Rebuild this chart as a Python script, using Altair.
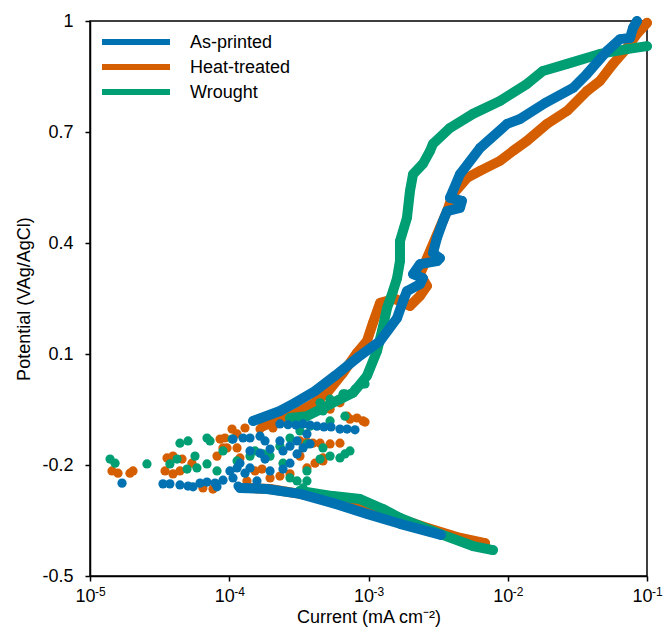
import altair as alt
import pandas as pd

SERIES = ["As-printed", "Heat-treated", "Wrought"]
COLORS = ["#0072B2", "#D55E00", "#009E73"]

# ---- As-printed (log10 current in mA cm^-2, potential in V vs Ag/AgCl)
ap_anodic_logi = [-3.829, -3.636, -3.528, -3.384, -3.241, -3.083, -2.917, -2.795, -2.752, -2.724,
                  -2.630, -2.609, -2.680, -2.630, -2.508, -2.487, -2.537, -2.508, -2.465, -2.436,
                  -2.343, -2.329, -2.415, -2.393, -2.343, -2.199, -2.005, -1.912, -1.733, -1.531,
                  -1.431, -1.287, -1.194, -1.122, -1.101, -1.072]
ap_anodic_e = [-0.081, -0.054, -0.032, 0.000, 0.041, 0.089, 0.135, 0.197, 0.243, 0.270,
               0.289, 0.305, 0.316, 0.343, 0.351, 0.359, 0.373, 0.414, 0.459, 0.486,
               0.495, 0.514, 0.522, 0.541, 0.586, 0.657, 0.722, 0.735, 0.778, 0.819,
               0.857, 0.919, 0.951, 0.954, 0.981, 1.000]
ap_cathodic_logi = [-2.480, -2.774, -3.011, -3.255, -3.492, -3.729, -3.923]
ap_cathodic_e = [-0.389, -0.359, -0.332, -0.303, -0.278, -0.265, -0.262]
ap_scatter_logi = [-4.770, -4.476, -4.426, -4.354, -4.296, -4.260, -4.210, -4.160, -4.088, -4.045,
                   -3.973, -3.944, -3.923, -3.973, -3.901, -3.873, -3.937, -3.851, -3.779, -3.636,
                   -3.513, -3.442, -3.851, -3.779, -3.707, -3.614, -3.513, -3.851, -3.707, -3.614,
                   -3.801, -3.636, -3.470, -3.370, -3.205, -3.097, -3.420,
                   -3.578, -3.521, -3.420, -3.320, -3.269, -3.154, -3.743, -3.564, -3.470, -3.743,
                   -3.564, -3.995, -4.102, -3.887]
ap_scatter_e = [-0.249, -0.251, -0.251, -0.254, -0.257, -0.259, -0.249, -0.246, -0.259, -0.241,
                -0.235, -0.208, -0.195, -0.130, -0.127, -0.262, -0.257, -0.127, -0.122, -0.135,
                -0.135, -0.116, -0.162, -0.168, -0.157, -0.162, -0.170, -0.208, -0.216, -0.211,
                -0.243, -0.089, -0.089, -0.095, -0.103, -0.105, -0.143,
                -0.091, -0.092, -0.092, -0.097, -0.097, -0.103, -0.135, -0.149, -0.154, -0.184,
                -0.195, -0.216, -0.249, -0.222]

# ---- Heat-treated
ht_anodic_logi = [-3.758, -3.636, -3.513, -3.399, -3.298, -3.183, -3.083, -3.011, -2.968, -2.917,
                  -2.810, -2.702, -2.630, -2.580, -2.630, -2.580, -2.487, -2.436, -2.393, -2.293,
                  -2.199, -2.056, -1.962, -1.862, -1.718, -1.574, -1.431, -1.338, -1.244, -1.144,
                  -1.072, -1.000]
ht_anodic_e = [-0.095, -0.076, -0.059, -0.035, -0.005, 0.049, 0.103, 0.135, 0.184, 0.238,
               0.249, 0.230, 0.257, 0.284, 0.316, 0.359, 0.441, 0.486, 0.532, 0.576,
               0.595, 0.622, 0.649, 0.676, 0.722, 0.757, 0.811, 0.838, 0.884, 0.927,
               0.965, 0.995]
ht_cathodic_logi = [-2.163, -2.364, -2.580, -2.774, -3.011, -3.255, -3.492, -3.707, -3.851]
ht_cathodic_e = [-0.411, -0.395, -0.370, -0.346, -0.319, -0.297, -0.278, -0.265, -0.262]
ht_scatter_logi = [-4.842, -4.799, -4.713, -4.691, -4.461, -4.404, -4.447, -4.404, -4.339, -4.268,
                   -4.088, -4.031, -3.980, -3.887, -3.944, -4.016, -4.066, -4.045, -3.923, -3.873,
                   -3.707, -3.564, -3.442, -3.327, -3.276, -3.083, -3.348, -3.779, -3.686, -3.399,
                   -3.039, -3.133, -3.327, -4.189, -4.117, -3.205, -3.492,
                   -3.492, -3.442, -3.348, -3.154, -3.025, -3.815, -3.765, -3.636, -3.384, -3.944,
                   -4.354, -3.205, -3.276]
ht_scatter_e = [-0.216, -0.222, -0.222, -0.216, -0.216, -0.224, -0.181, -0.176, -0.184, -0.195,
                -0.176, -0.127, -0.103, -0.100, -0.116, -0.154, -0.130, -0.154, -0.181, -0.243,
                -0.235, -0.224, -0.208, -0.189, -0.143, -0.073, -0.027, -0.103, -0.100, -0.141,
                -0.081, -0.076, -0.181, -0.262, -0.265, -0.141, -0.176,
                -0.135, -0.138, -0.141, -0.068, -0.084, -0.216, -0.211, -0.230, -0.195, -0.154,
                -0.216, -0.032, -0.049]

# ---- Wrought
wr_anodic_logi = [-3.564, -3.442, -3.327, -3.205, -3.111, -3.011, -2.939, -2.903, -2.867, -2.824,
                  -2.795, -2.774, -2.774, -2.724, -2.702, -2.680, -2.609, -2.558, -2.537, -2.415,
                  -2.250, -2.056, -1.862, -1.747, -1.574, -1.338, -1.144, -1.000]
wr_anodic_e = [-0.073, -0.068, -0.046, -0.022, -0.005, 0.041, 0.108, 0.162, 0.224, 0.270,
               0.305, 0.351, 0.405, 0.468, 0.541, 0.586, 0.614, 0.649, 0.668, 0.711,
               0.749, 0.784, 0.830, 0.865, 0.884, 0.911, 0.924, 0.932]
wr_cathodic_logi = [-2.106, -2.250, -2.487, -2.774, -2.896, -3.061, -3.255, -3.492]
wr_cathodic_e = [-0.430, -0.419, -0.386, -0.343, -0.319, -0.292, -0.284, -0.270]
wr_scatter_logi = [-4.856, -4.820, -4.591, -4.354, -4.296, -4.160, -4.138, -4.375, -4.426, -4.303,
                   -4.232, -4.160, -4.088, -4.045, -3.980, -3.944, -3.758, -3.564, -3.513, -3.470,
                   -3.442, -3.327, -3.183, -3.039, -3.442, -3.327, -3.348, -3.205, -3.133, -3.492,
                   -3.420, -3.276, -3.169, -3.614, -3.707, -3.851,
                   -3.348, -3.276, -3.169, -3.097, -3.025, -3.276, -3.169, -3.564, -3.442, -3.636,
                   -3.815, -4.246]
wr_scatter_e = [-0.184, -0.195, -0.197, -0.141, -0.135, -0.127, -0.135, -0.184, -0.197, -0.211,
                -0.208, -0.197, -0.216, -0.162, -0.130, -0.189, -0.170, -0.127, -0.243, -0.262,
                -0.216, -0.054, -0.008, 0.019, -0.143, -0.154, -0.184, -0.181, -0.162, -0.108,
                -0.095, -0.081, -0.068, -0.195, -0.176, -0.176,
                -0.032, -0.022, -0.008, 0.005, 0.019, -0.176, -0.170, -0.235, -0.243, -0.149,
                -0.162, -0.176]

# ---- axes
x_tick_values = [1e-5, 1e-4, 1e-3, 1e-2, 1e-1]
x_tick_exponents = ["-5", "-4", "-3", "-2", "-1"]
y_tick_values = [-0.5, -0.2, 0.1, 0.4, 0.7, 1.0]
y_tick_labels = ["-0.5", "-0.2", "0.1", "0.4", "0.7", "1"]

FONT = "Liberation Sans"
FS = 18

raw = {
    "As-printed": [("anodic", ap_anodic_logi, ap_anodic_e), ("cathodic", ap_cathodic_logi, ap_cathodic_e),
                   ("scatter", ap_scatter_logi, ap_scatter_e)],
    "Heat-treated": [("anodic", ht_anodic_logi, ht_anodic_e), ("cathodic", ht_cathodic_logi, ht_cathodic_e),
                     ("scatter", ht_scatter_logi, ht_scatter_e)],
    "Wrought": [("anodic", wr_anodic_logi, wr_anodic_e), ("cathodic", wr_cathodic_logi, wr_cathodic_e),
                ("scatter", wr_scatter_logi, wr_scatter_e)],
}

x_scale = alt.Scale(type="log", domain=[1e-5, 1e-1], nice=False)
y_scale = alt.Scale(domain=[-0.5, 1.0], nice=False, zero=False)

x_axis = alt.Axis(values=x_tick_values, labelExpr="'10'", labelOffset=-5, labelBaseline="alphabetic",
                  labelPadding=20, labelFontSize=FS, labelFont=FONT, labelColor="black",
                  labelFlush=False, labelOverlap=False, labelBound=False,
                  title="Current (mA cm\u207b\u00b2)", titleFont=FONT, titleFontSize=FS,
                  titleFontWeight="normal", titleColor="black", titleX=278.5, titleY=46,
                  titleBaseline="alphabetic", titleAlign="center")
ylab_expr = "[" + ",".join("'%s'" % s for s in y_tick_labels) + "][round((datum.value + 0.5) / 0.3)]"
y_axis = alt.Axis(values=y_tick_values, labelExpr=ylab_expr, labelPadding=12, labelFontSize=FS,
                  labelFont=FONT, labelColor="black", labelBaseline="middle",
                  labelFlush=False, labelOverlap=False,
                  title="Potential (VAg/AgCl)", titleFont=FONT, titleFontSize=FS,
                  titleFontWeight="normal", titleColor="black", titleX=-66, titleY=277.5,
                  titleAngle=270, titleAlign="center", titleBaseline="middle")

X = alt.X("current:Q", scale=x_scale, axis=x_axis)
Y = alt.Y("potential:Q", scale=y_scale, axis=y_axis)

layers = []
for name in ["Heat-treated", "Wrought", "As-printed"]:
    color = COLORS[SERIES.index(name)]
    line_rows, pt_rows = [], []
    for kind, li, ev in raw[name]:
        for k, (a, b) in enumerate(zip(li, ev)):
            row = {"current": 10 ** a, "potential": b, "kind": kind, "idx": k}
            (pt_rows if kind == "scatter" else line_rows).append(row)
    ldf = pd.DataFrame(line_rows)
    pdf = pd.DataFrame(pt_rows)
    layers.append(alt.Chart(ldf).mark_line(color=color, strokeWidth=10, strokeCap="round",
                                           strokeJoin="round").encode(
        x=X, y=Y, detail="kind:N", order="idx:Q"))
    layers.append(alt.Chart(ldf).mark_circle(color=color, size=90, opacity=1).encode(x=X, y=Y))
    layers.append(alt.Chart(pdf).mark_circle(color=color, size=85, opacity=1).encode(x=X, y=Y))

# superscript exponents on x tick labels
exp_df = pd.DataFrame({"current": x_tick_values, "exp": x_tick_exponents})
layers.append(alt.Chart(exp_df).mark_text(align="left", baseline="alphabetic", dx=5, fontSize=12,
                                          font=FONT, color="black").encode(
    x=alt.X("current:Q", scale=x_scale, axis=x_axis), y=alt.value(575), text="exp:N"))

# legend (inside, top-left)
for i, name in enumerate(SERIES):
    ypos = 21 + 25 * i
    ldata = pd.DataFrame({"series": [name]})
    layers.append(alt.Chart(ldata).mark_rule(color=COLORS[i], strokeWidth=6).encode(
        x=alt.value(12), x2=alt.value(80), y=alt.value(ypos)))
    layers.append(alt.Chart(ldata).mark_text(align="left", baseline="middle", fontSize=FS, font=FONT,
                                             color="black").encode(
        x=alt.value(100), y=alt.value(ypos + 1), text="series:N"))

chart = alt.layer(*layers).properties(
    width=557, height=555,
    padding={"left": 90, "top": 21, "right": 17, "bottom": 52},
    autosize=alt.AutoSizeParams(type="none"),
    background="white",
).configure_view(stroke="black", strokeWidth=1.5).configure_axis(
    grid=False, domainColor="black", domainWidth=1.5, tickColor="black", tickWidth=1.5, tickSize=5)

chart.save("out.html", embed_options={"renderer": "svg", "actions": False})
